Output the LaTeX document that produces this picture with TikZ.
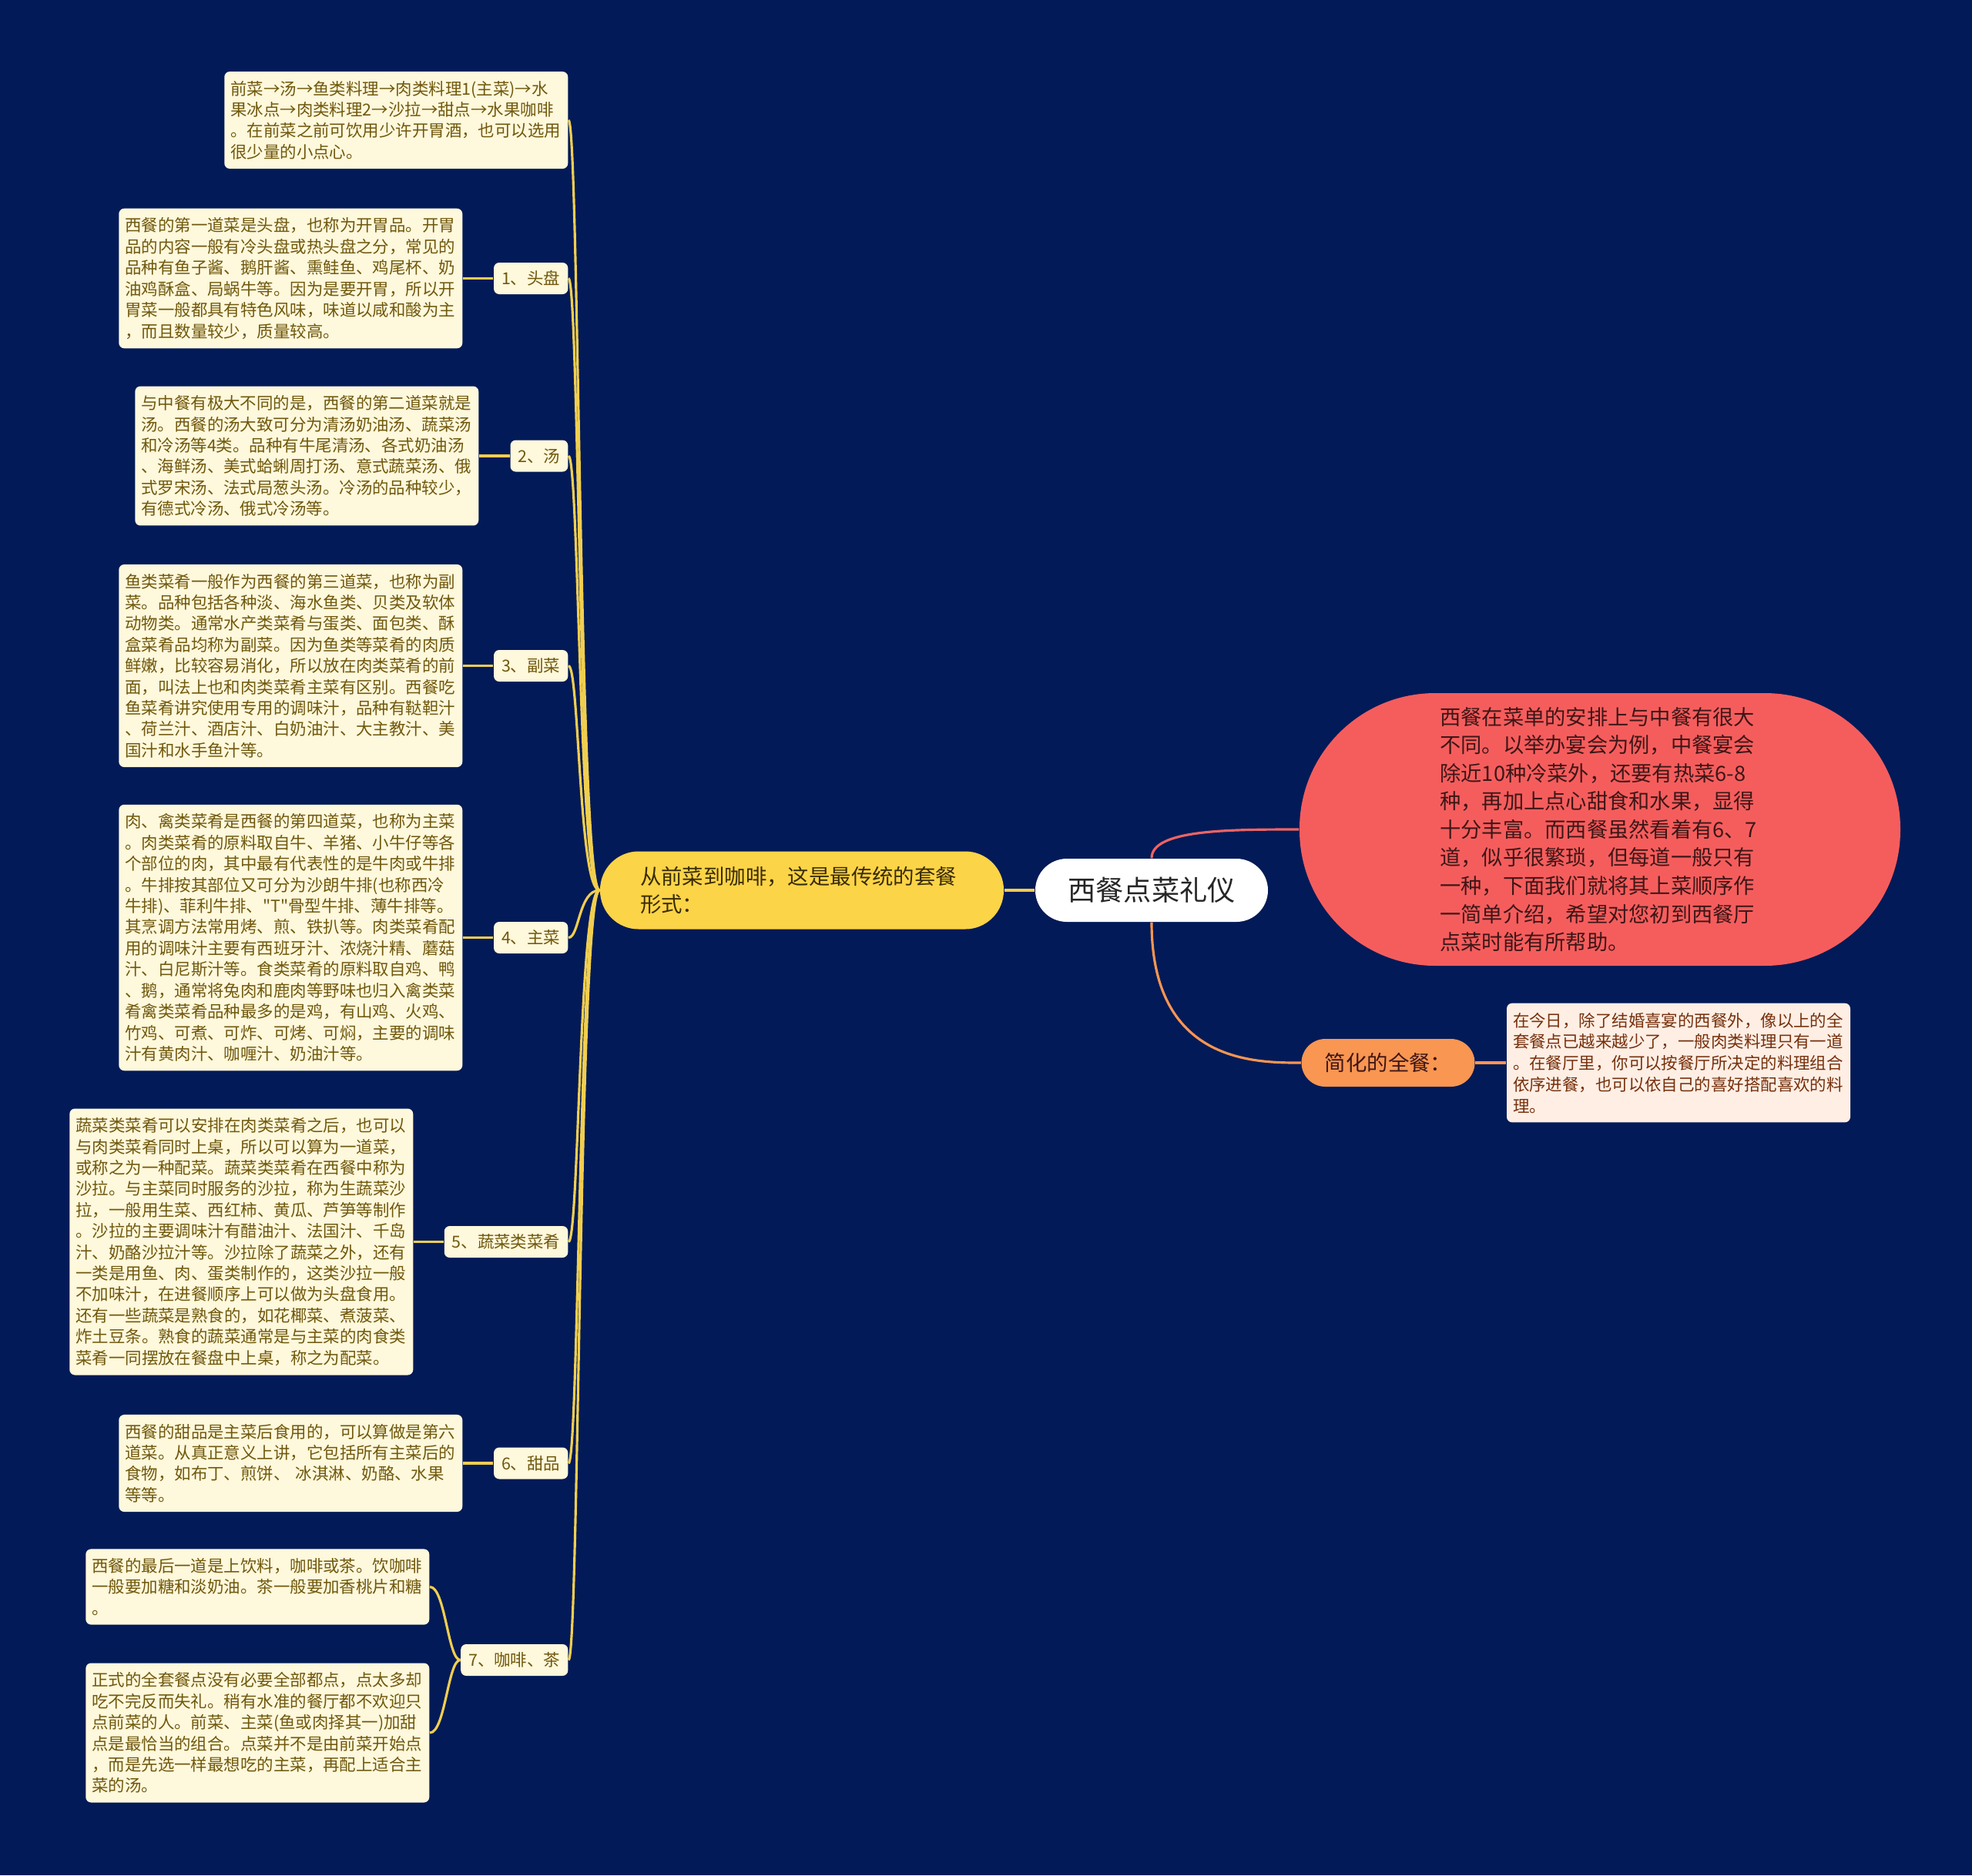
\documentclass[tikz,border=0pt]{standalone}
\usepackage{fontspec}
\setmainfont{Noto Sans CJK SC}[Ligatures=TeXOff]
\usepackage{xcolor}
\definecolor{navy}{RGB}{2,26,87}
\definecolor{leafcream}{RGB}{254,248,220}
\definecolor{leaftext}{RGB}{112,88,12}
\definecolor{lineyellow}{RGB}{240,206,80}
\definecolor{pillyellow}{RGB}{252,212,72}
\definecolor{pilltext}{RGB}{58,44,4}
\definecolor{coral}{RGB}{245,93,93}
\definecolor{coraltext}{RGB}{62,22,22}
\definecolor{coralline}{RGB}{236,100,100}
\definecolor{tangerine}{RGB}{248,150,82}
\definecolor{peach}{RGB}{254,238,228}
\definecolor{peachtext}{RGB}{118,48,12}

\begin{document}
\begin{tikzpicture}[
  leaf/.style={fill=leafcream, text=leaftext, rounded corners=0.07cm, inner xsep=0.08cm, inner ysep=0.12cm,
    text width=4.3cm, align=left, font=\fontsize{6.1pt}{7.8pt}\selectfont},
  tag/.style={fill=leafcream, text=leaftext, rounded corners=0.07cm, inner xsep=0.1cm, inner ysep=0pt,
    minimum height=0.41cm, font=\fontsize{6.1pt}{7.8pt}\selectfont},
  hub/.style={fill=white, text=black!85, rounded corners=0.41cm, minimum width=3.02cm, minimum height=0.82cm,
    font=\fontsize{10.3pt}{12pt}\selectfont},
  pill/.style={fill=pillyellow, text=pilltext, rounded corners=0.5cm, minimum width=5.24cm, minimum height=1.01cm,
    text width=4.2cm, align=left, font=\fontsize{7.8pt}{10.2pt}\selectfont},
  yline/.style={draw=lineyellow, line width=0.9pt},
  rline/.style={draw=coralline, line width=0.9pt},
  oline/.style={draw=tangerine, line width=0.9pt}
]
  \fill[navy] (0,0) rectangle (25.6,-24.35);
  \useasboundingbox (0,0) rectangle (25.6,-24.35);

  % centre and first level
  \node[hub] (root) at (14.95,-11.56) {西餐点菜礼仪};
  \node[pill] (course) at (10.41,-11.56) {从前菜到咖啡，这是最传统的套餐\\形式：};
  \node[fill=coral, text=coraltext, rounded corners=1.76cm, minimum width=7.8cm, minimum height=3.54cm,
    text width=4.15cm, align=left, font=\fontsize{7.75pt}{10.4pt}\selectfont] (intro) at (20.77,-10.77)
    {西餐在菜单的安排上与中餐有很大\\不同。以举办宴会为例，中餐宴会\\除近10种冷菜外，还要有热菜6-8\\种，再加上点心甜食和水果，显得\\十分丰富。而西餐虽然看着有6、7\\道，似乎很繁琐，但每道一般只有\\一种，下面我们就将其上菜顺序作\\一简单介绍，希望对您初到西餐厅\\点菜时能有所帮助。};
  \node[fill=tangerine, text=coraltext, rounded corners=0.31cm, minimum width=2.25cm, minimum height=0.62cm,
    font=\fontsize{7.8pt}{10pt}\selectfont] (short) at (18.02,-13.80) {简化的全餐：};
  \node[leaf, fill=peach, text=peachtext, font=\fontsize{6.1pt}{7.9pt}\selectfont] (shorttxt) at (21.79,-13.80)
    {在今日，除了结婚喜宴的西餐外，像以上的全\\套餐点已越来越少了，一般肉类料理只有一道\\。在餐厅里，你可以按餐厅所决定的料理组合\\依序进餐，也可以依自己的喜好搭配喜欢的料\\理。};

  % course tags
  \node[tag, anchor=east] (t1) at (7.38,-3.615)  {1、头盘};
  \node[tag, anchor=east] (t2) at (7.38,-5.92)   {2、汤};
  \node[tag, anchor=east] (t3) at (7.38,-8.645)  {3、副菜};
  \node[tag, anchor=east] (t4) at (7.38,-12.175) {4、主菜};
  \node[tag, anchor=east] (t5) at (7.38,-16.125) {5、蔬菜类菜肴};
  \node[tag, anchor=east] (t6) at (7.38,-19.00)  {6、甜品};
  \node[tag, anchor=east] (t7) at (7.38,-21.555) {7、咖啡、茶};

  % course texts
  \node[leaf, anchor=east] (order) at (7.38,-1.56)
    {前菜→汤→鱼类料理→肉类料理1(主菜)→水\\果冰点→肉类料理2→沙拉→甜点→水果咖啡\\。在前菜之前可饮用少许开胃酒，也可以选用\\很少量的小点心。};
  \node[leaf, anchor=east] (b1) at (6.01,-3.615)
    {西餐的第一道菜是头盘，也称为开胃品。开胃\\品的内容一般有冷头盘或热头盘之分，常见的\\品种有鱼子酱、鹅肝酱、熏鲑鱼、鸡尾杯、奶\\油鸡酥盒、局蜗牛等。因为是要开胃，所以开\\胃菜一般都具有特色风味，味道以咸和酸为主\\，而且数量较少，质量较高。};
  \node[leaf, anchor=east] (b2) at (6.22,-5.92)
    {与中餐有极大不同的是，西餐的第二道菜就是\\汤。西餐的汤大致可分为清汤奶油汤、蔬菜汤\\和冷汤等4类。品种有牛尾清汤、各式奶油汤\\、海鲜汤、美式蛤蜊周打汤、意式蔬菜汤、俄\\式罗宋汤、法式局葱头汤。冷汤的品种较少，\\有德式冷汤、俄式冷汤等。};
  \node[leaf, anchor=east] (b3) at (6.01,-8.645)
    {鱼类菜肴一般作为西餐的第三道菜，也称为副\\菜。品种包括各种淡、海水鱼类、贝类及软体\\动物类。通常水产类菜肴与蛋类、面包类、酥\\盒菜肴品均称为副菜。因为鱼类等菜肴的肉质\\鲜嫩，比较容易消化，所以放在肉类菜肴的前\\面，叫法上也和肉类菜肴主菜有区别。西餐吃\\鱼菜肴讲究使用专用的调味汁，品种有鞑靼汁\\、荷兰汁、酒店汁、白奶油汁、大主教汁、美\\国汁和水手鱼汁等。};
  \node[leaf, anchor=east] (b4) at (6.01,-12.175)
    {肉、禽类菜肴是西餐的第四道菜，也称为主菜\\。肉类菜肴的原料取自牛、羊猪、小牛仔等各\\个部位的肉，其中最有代表性的是牛肉或牛排\\。牛排按其部位又可分为沙朗牛排(也称西冷\\牛排)、菲利牛排、"T"骨型牛排、薄牛排等。\\其烹调方法常用烤、煎、铁扒等。肉类菜肴配\\用的调味汁主要有西班牙汁、浓烧汁精、蘑菇\\汁、白尼斯汁等。食类菜肴的原料取自鸡、鸭\\、鹅，通常将兔肉和鹿肉等野味也归入禽类菜\\肴禽类菜肴品种最多的是鸡，有山鸡、火鸡、\\竹鸡、可煮、可炸、可烤、可焖，主要的调味\\汁有黄肉汁、咖喱汁、奶油汁等。};
  \node[leaf, anchor=east] (b5) at (5.37,-16.125)
    {蔬菜类菜肴可以安排在肉类菜肴之后，也可以\\与肉类菜肴同时上桌，所以可以算为一道菜，\\或称之为一种配菜。蔬菜类菜肴在西餐中称为\\沙拉。与主菜同时服务的沙拉，称为生蔬菜沙\\拉，一般用生菜、西红柿、黄瓜、芦笋等制作\\。沙拉的主要调味汁有醋油汁、法国汁、千岛\\汁、奶酪沙拉汁等。沙拉除了蔬菜之外，还有\\一类是用鱼、肉、蛋类制作的，这类沙拉一般\\不加味汁，在进餐顺序上可以做为头盘食用。\\还有一些蔬菜是熟食的，如花椰菜、煮菠菜、\\炸土豆条。熟食的蔬菜通常是与主菜的肉食类\\菜肴一同摆放在餐盘中上桌，称之为配菜。};
  \node[leaf, anchor=east] (b6) at (6.01,-19.00)
    {西餐的甜品是主菜后食用的，可以算做是第六\\道菜。从真正意义上讲，它包括所有主菜后的\\食物，如布丁、煎饼、~冰淇淋、奶酪、水果\\等等。};
  \node[leaf, anchor=east] (b7a) at (5.58,-20.605)
    {西餐的最后一道是上饮料，咖啡或茶。饮咖啡\\一般要加糖和淡奶油。茶一般要加香桃片和糖\\。};
  \node[leaf, anchor=east] (b7b) at (5.58,-22.50)
    {正式的全套餐点没有必要全部都点，点太多却\\吃不完反而失礼。稍有水准的餐厅都不欢迎只\\点前菜的人。前菜、主菜(鱼或肉择其一)加甜\\点是最恰当的组合。点菜并不是由前菜开始点\\，而是先选一样最想吃的主菜，再配上适合主\\菜的汤。};

  % connectors
  \draw[yline] (course.east) -- (root.west);
  \draw[rline] (root.north) .. controls (root.north |- intro.west) and ([xshift=-0.9cm]intro.west) .. (intro.west);
  \draw[oline] (root.south) .. controls (root.south |- short.west) and ([xshift=-0.6cm]short.west) .. (short.west);
  \draw[oline] (short.east) -- (shorttxt.west);

  \foreach \t in {order,t1,t2,t3,t4,t5,t6,t7}
    \draw[yline] (course.west) .. controls ([xshift=-0.27cm]course.west) and ([xshift=0.14cm]\t.east) .. (\t.east);
  \foreach \i in {1,...,6}
    \draw[yline] (t\i.west) -- (b\i.east);
  \draw[yline] (t7.west) .. controls ([xshift=-0.16cm]t7.west) and ([xshift=0.2cm]b7a.east) .. (b7a.east);
  \draw[yline] (t7.west) .. controls ([xshift=-0.16cm]t7.west) and ([xshift=0.2cm]b7b.east) .. (b7b.east);
\end{tikzpicture}
\end{document}
